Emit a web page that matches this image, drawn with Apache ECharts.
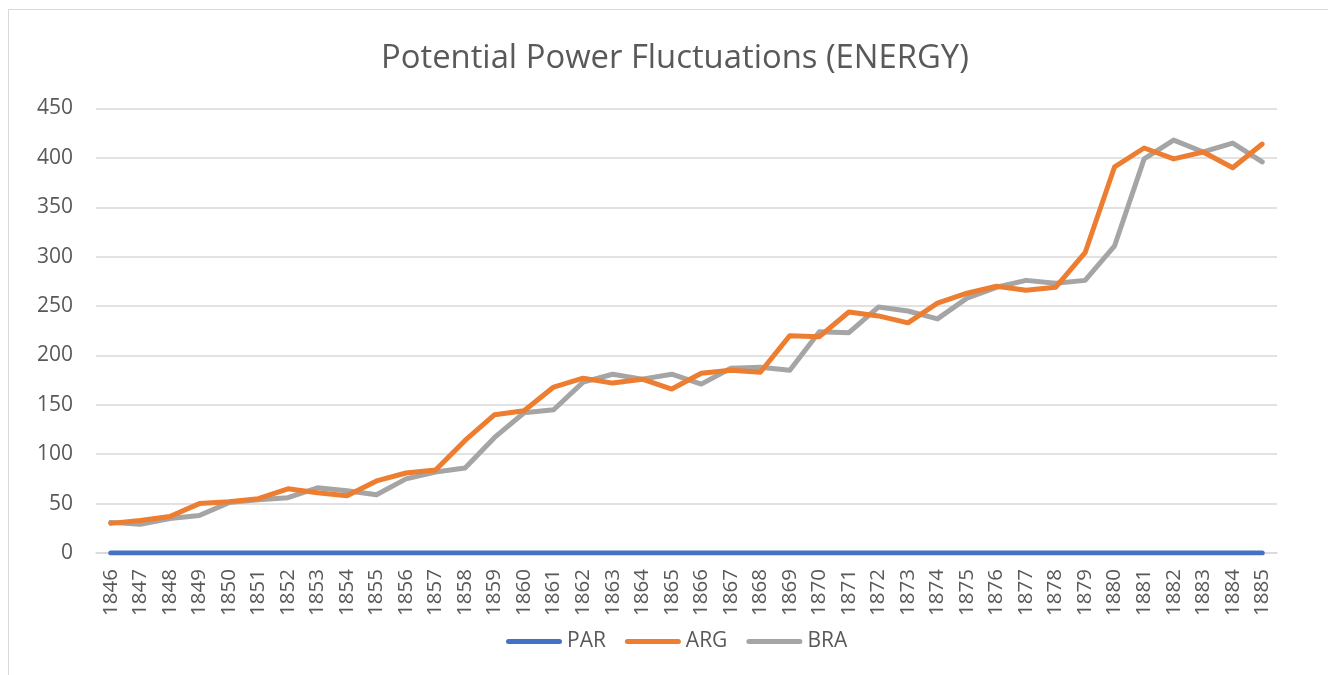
<!DOCTYPE html>
<html>
<head>
<meta charset="utf-8">
<title>Potential Power Fluctuations (ENERGY)</title>
<script src="https://cdn.jsdelivr.net/npm/echarts@6/dist/echarts.min.js"></script>
<style>
  html, body { margin: 0; padding: 0; background: #fff; overflow: hidden; }
  .frame {
    position: absolute; left: 8px; top: 9px;
    width: 1400px; height: 700px;
    border: 1.5px solid #d9d9d9;
    box-sizing: border-box;
  }
  #chart { position: absolute; left: 0; top: 0; width: 1328px; height: 675px; }
</style>
</head>
<body>
<div class="frame"></div>
<div id="chart"></div>
<script>
const years = [
  '1846', '1847', '1848', '1849', '1850', '1851', '1852', '1853', '1854', '1855',
  '1856', '1857', '1858', '1859', '1860', '1861', '1862', '1863', '1864', '1865',
  '1866', '1867', '1868', '1869', '1870', '1871', '1872', '1873', '1874', '1875',
  '1876', '1877', '1878', '1879', '1880', '1881', '1882', '1883', '1884', '1885'
]

const parValues = [
  0, 0, 0, 0, 0, 0, 0, 0, 0, 0,
  0, 0, 0, 0, 0, 0, 0, 0, 0, 0,
  0, 0, 0, 0, 0, 0, 0, 0, 0, 0,
  0, 0, 0, 0, 0, 0, 0, 0, 0, 0
]

const argValues = [
  30, 33, 37, 50, 52, 55, 65, 61, 58, 73,
  81, 84, 114, 140, 144, 168, 177, 172, 176, 166,
  182, 185, 183, 220, 219, 244, 240, 233, 253, 263,
  270, 266, 269, 304, 391, 410, 399, 406, 390, 414
]

const braValues = [
  31, 29, 35, 38, 51, 54, 56, 66, 63, 59,
  75, 82, 86, 117, 142, 145, 173, 181, 176, 181,
  171, 187, 188, 185, 224, 223, 249, 245, 237, 258,
  269, 276, 273, 276, 311, 399, 418, 406, 415, 396
]

const seriesNames = ['PAR', 'ARG', 'BRA']
const seriesColors = ['#4472c4', '#ed7d31', '#a5a5a5']
const seriesData = [parValues, argValues, braValues]

// thick line with rounded ends, like the office legend keys
const legendIcon = 'path://M2.5,0 L53.5,0 A2.5,2.5 0 0 1 53.5,5 L2.5,5 A2.5,2.5 0 0 1 2.5,0 Z'
const labelFont = 'Open Sans, Noto Sans, sans-serif'

const chart = echarts.init(document.getElementById('chart'))

chart.setOption({
  animation: false,
  textStyle: { fontFamily: labelFont },
  title: {
    text: 'Potential Power Fluctuations (ENERGY)',
    left: 376,
    top: 37,
    textStyle: {
      color: '#595959',
      fontSize: 32.8,
      fontWeight: 'normal',
      fontFamily: labelFont
    }
  },
  legend: {
    bottom: 18,
    left: 501,
    icon: legendIcon,
    itemWidth: 56,
    itemHeight: 5,
    itemGap: 19,
    textStyle: { color: '#595959', fontSize: 21, fontFamily: labelFont },
    data: seriesNames
  },
  grid: {
    left: 96,
    right: 51,
    top: 108.5,
    height: 444.5,
    containLabel: false
  },
  xAxis: {
    type: 'category',
    data: years,
    boundaryGap: true,
    axisLine: { show: true, lineStyle: { color: '#d9d9d9', width: 1.5 } },
    axisTick: { show: false },
    axisLabel: {
      rotate: 90,
      interval: 0,
      margin: 16,
      color: '#595959',
      fontSize: 20.5,
      fontFamily: labelFont
    }
  },
  yAxis: {
    type: 'value',
    min: 0,
    max: 450,
    interval: 50,
    axisLine: { show: false },
    axisTick: { show: false },
    axisLabel: { color: '#595959', fontSize: 21, margin: 23, fontFamily: labelFont },
    splitLine: { lineStyle: { color: '#d9d9d9', width: 1.5 } }
  },
  series: seriesNames.map((name, i) => ({
    name: name,
    type: 'line',
    data: seriesData[i],
    symbol: 'none',
    color: seriesColors[i],
    lineStyle: { width: 5, color: seriesColors[i], cap: 'round', join: 'round' },
    z: 2 + (seriesNames.length - i)
  }))
})
</script>
</body>
</html>
